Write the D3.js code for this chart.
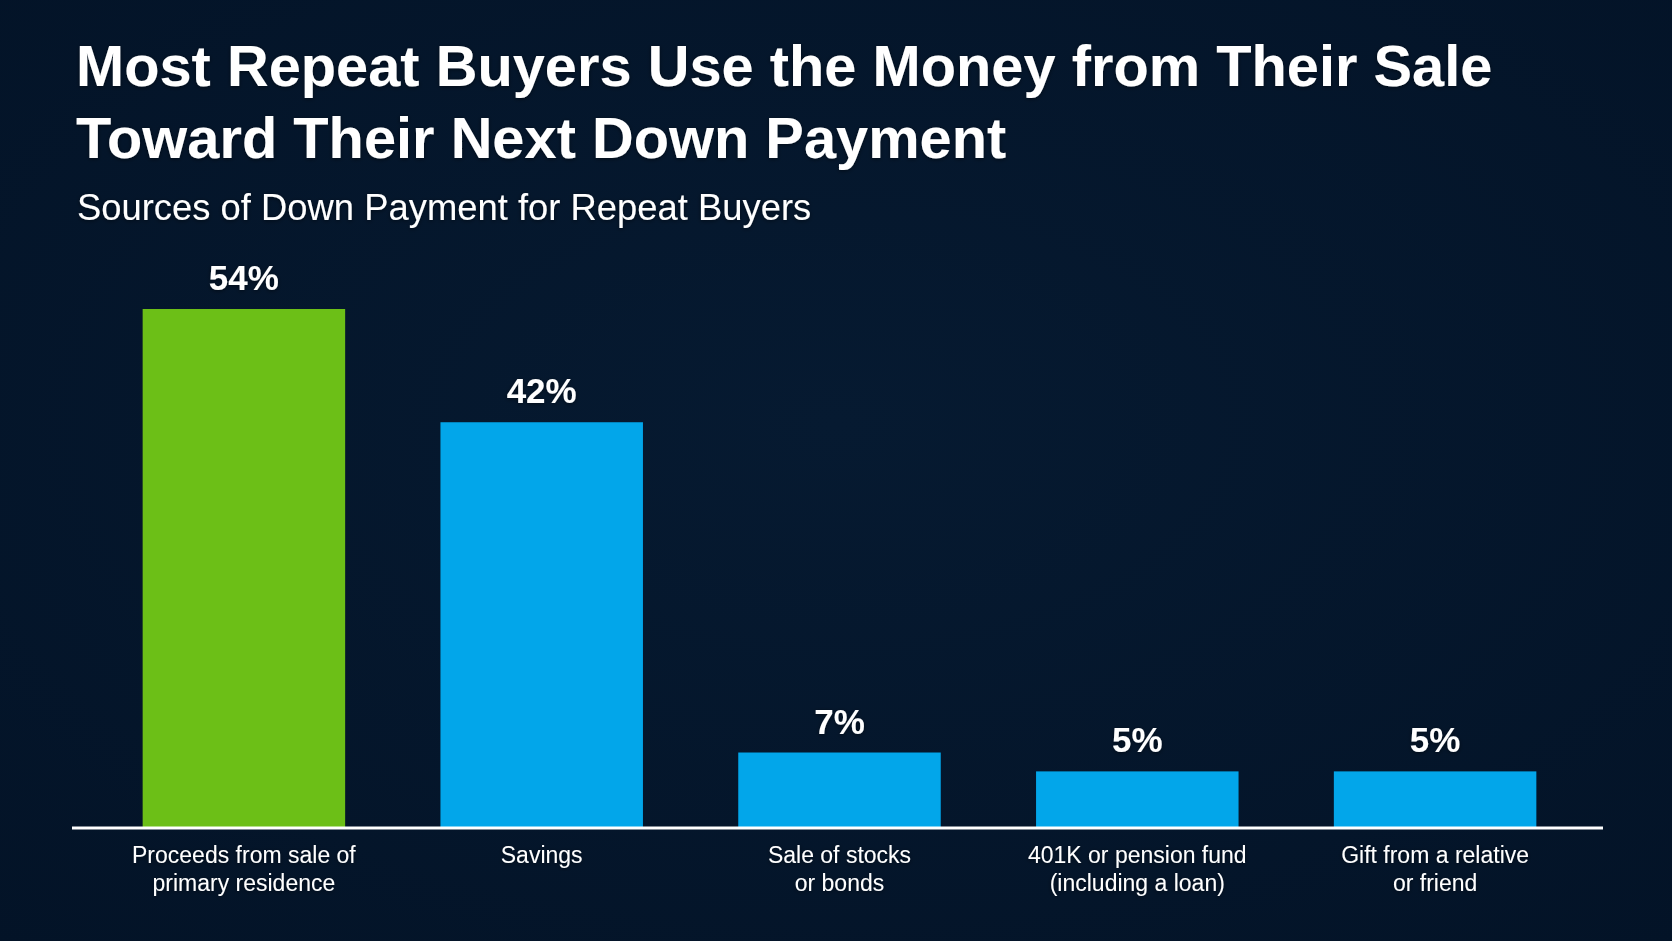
<!DOCTYPE html>
<html>
<head>
<meta charset="utf-8">
<script src="https://cdn.jsdelivr.net/npm/d3@7"></script>
<style>
	html, body { margin: 0; padding: 0; background: #05172d; }
	svg text { font-family: "Liberation Sans", Arial, sans-serif; fill: #ffffff; }
</style>
</head>
<body>
<script>
// chart data
const categories = [
	["Proceeds from sale of", "primary residence"],
	["Savings"],
	["Sale of stocks", "or bonds"],
	["401K or pension fund", "(including a loan)"],
	["Gift from a relative", "or friend"]
];
const values = [54, 42, 7, 5, 5];
const valueLabels = ["54%", "42%", "7%", "5%", "5%"];
const titleLines = [
	"Most Repeat Buyers Use the Money from Their Sale",
	"Toward Their Next Down Payment"
];
const subtitle = "Sources of Down Payment for Repeat Buyers";

const width = 1672, height = 941;

const svg = d3.select("body")
	.append("svg")
	.attr("width", width)
	.attr("height", height);

// background with a soft vignette
const defs = svg.append("defs");
const grad = defs.append("radialGradient")
	.attr("id", "bg")
	.attr("cx", "50%").attr("cy", "45%").attr("r", "75%");
grad.append("stop").attr("offset", "0%").attr("stop-color", "#061a31");
grad.append("stop").attr("offset", "100%").attr("stop-color", "#031327");
svg.append("rect")
	.attr("width", width)
	.attr("height", height)
	.attr("fill", "url(#bg)");

const shadow = defs.append("filter").attr("id", "shadow");
shadow.append("feDropShadow")
	.attr("dx", 0).attr("dy", 1)
	.attr("stdDeviation", 2)
	.attr("flood-color", "#000000")
	.attr("flood-opacity", 0.5);

// titles
svg.append("g")
	.selectAll("text")
	.data(titleLines)
	.join("text")
	.attr("x", 76)
	.attr("y", function(d, i) { return 86 + i * 72; })
	.attr("font-size", 57.8)
	.attr("font-weight", "bold")
	.attr("filter", "url(#shadow)")
	.text(function(d) { return d; });

svg.append("text")
	.attr("x", 77)
	.attr("y", 220)
	.attr("font-size", 36.4)
	.attr("filter", "url(#shadow)")
	.text(subtitle);

// scales
const x = d3.scaleBand()
	.domain(d3.range(values.length))
	.range([95, 1584])
	.paddingInner(0.32)
	.paddingOuter(0.16);

const y = d3.scaleLinear()
	.domain([-1, 54])
	.range([828, 309]);

const bars = svg.append("g");
bars.selectAll("rect")
	.data(values)
	.join("rect")
	.attr("x", function(d, i) { return x(i); })
	.attr("y", function(d) { return y(d); })
	.attr("width", x.bandwidth())
	.attr("height", function(d) { return y(-1) - y(d); })
	.attr("fill", function(d, i) { return i == 0 ? "#6cbf17" : "#02a6ea"; });

// value labels above bars
svg.append("g")
	.selectAll("text")
	.data(values)
	.join("text")
	.attr("x", function(d, i) { return x(i) + x.bandwidth() / 2; })
	.attr("y", function(d) { return y(d) - 19; })
	.attr("text-anchor", "middle")
	.attr("font-size", 35)
	.attr("font-weight", "bold")
	.attr("filter", "url(#shadow)")
	.text(function(d, i) { return valueLabels[i]; });

// baseline
svg.append("line")
	.attr("x1", 72)
	.attr("x2", 1603)
	.attr("y1", y(-1))
	.attr("y2", y(-1))
	.attr("stroke", "#ffffff")
	.attr("stroke-width", 3);

// category labels
const cats = svg.append("g")
	.selectAll("text")
	.data(categories)
	.join("text")
	.attr("text-anchor", "middle")
	.attr("font-size", 23)
	.attr("filter", "url(#shadow)");
cats.selectAll("tspan")
	.data(function(d, i) { return d.map(function(line) { return [line, i]; }); })
	.join("tspan")
	.attr("x", function(d) { return x(d[1]) + x.bandwidth() / 2; })
	.attr("y", function(d, j) { return 863 + j * 28; })
	.text(function(d) { return d[0]; });
</script>
</body>
</html>
